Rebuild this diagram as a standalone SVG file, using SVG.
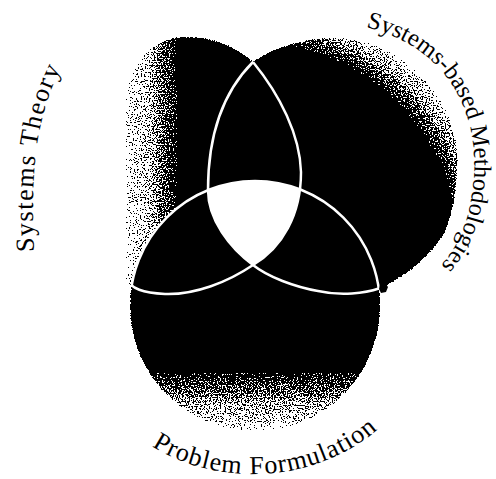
<svg xmlns="http://www.w3.org/2000/svg" xmlns:xlink="http://www.w3.org/1999/xlink" width="496" height="479" viewBox="0 0 496 479">
  <style>
    .lbl { font-family: "Liberation Serif", "Times New Roman", serif; fill: #000; }
    .edge { fill: none; stroke: #fff; stroke-width: 2.5; }
  </style>
  <defs>
    <path id="pA" d="M 253,62 C 280,95 300,135 301,172 C 301,215 282,248 253,265 C 228,282 195,295 165,294 C 145,293 130,290 124,275 C 118,230 118,140 128,90 C 135,58 155,38 185,37 C 215,37 238,48 253,62 Z"/>
    <path id="pB" d="M 253,62 C 270,50 300,38 335,38 C 390,38 440,80 455,135 C 460,165 456,205 445,232 C 430,257 405,276 383,287 C 365,294 340,296 318,291 C 295,287 268,277 253,265 C 230,248 208,220 208,190 C 208,130 225,90 253,62 Z"/>
    <circle id="pC" cx="255" cy="306" r="125"/>
    <linearGradient id="gA" gradientUnits="userSpaceOnUse" x1="124" y1="0" x2="178" y2="0">
      <stop offset="0" stop-color="#000" stop-opacity="0"/>
      <stop offset="0.45" stop-color="#000" stop-opacity="0.25"/>
      <stop offset="1" stop-color="#000" stop-opacity="1"/>
    </linearGradient>
    <radialGradient id="gB" gradientUnits="userSpaceOnUse" cx="250" cy="250" r="250">
      <stop offset="0.83" stop-color="#000" stop-opacity="1"/>
      <stop offset="0.91" stop-color="#000" stop-opacity="0.4"/>
      <stop offset="0.98" stop-color="#000" stop-opacity="0"/>
    </radialGradient>
    <linearGradient id="gC" gradientUnits="userSpaceOnUse" x1="0" y1="372" x2="0" y2="432">
      <stop offset="0" stop-color="#000" stop-opacity="1"/>
      <stop offset="0.5" stop-color="#000" stop-opacity="0.4"/>
      <stop offset="1" stop-color="#000" stop-opacity="0"/>
    </linearGradient>
    <filter id="spray" x="-10%" y="-10%" width="120%" height="120%" color-interpolation-filters="sRGB">
      <feTurbulence type="fractalNoise" baseFrequency="0.75" numOctaves="2" seed="7" result="n"/>
      <feComponentTransfer in="n" result="n2">
        <feFuncA type="linear" slope="3" intercept="-1"/>
      </feComponentTransfer>
      <feComposite in="SourceAlpha" in2="n2" operator="arithmetic" k1="0" k2="1.05" k3="1" k4="-0.52" result="s"/>
      <feComponentTransfer in="s" result="t">
        <feFuncA type="discrete" tableValues="0 1"/>
      </feComponentTransfer>
      <feFlood flood-color="#000" result="k"/>
      <feComposite in="k" in2="t" operator="in"/>
    </filter>
    <clipPath id="cA"><use xlink:href="#pA"/></clipPath>
    <clipPath id="cB"><use xlink:href="#pB"/></clipPath>
    <clipPath id="cBC"><use xlink:href="#pB"/><use xlink:href="#pC"/></clipPath>
    <clipPath id="cAC"><use xlink:href="#pA"/><use xlink:href="#pC"/></clipPath>
    <clipPath id="cAB"><use xlink:href="#pA"/><use xlink:href="#pB"/></clipPath>
    <path id="tA" d="M 34,252 C 31,175 33,120 64,62"/>
    <path id="tB" d="M 366,27 C 438,45 478,100 474,175 C 471,220 458,250 434,272"/>
    <path id="tC" d="M 152,446 C 210,484 310,488 378,429"/>
  </defs>

  <g id="node-systems-theory">
    <use xlink:href="#pA" fill="url(#gA)" filter="url(#spray)"/>
    <text class="lbl" font-size="26" letter-spacing="1.5"><textPath xlink:href="#tA">Systems Theory</textPath></text>
  </g>

  <g id="node-systems-based-methodologies">
    <use xlink:href="#pB" fill="url(#gB)" filter="url(#spray)"/>
    <text class="lbl" font-size="24.5"><textPath xlink:href="#tB">Systems-based Methodologies</textPath></text>
  </g>

  <g id="node-problem-formulation">
    <use xlink:href="#pC" fill="url(#gC)" filter="url(#spray)"/>
    <text class="lbl" font-size="26" letter-spacing="1"><textPath xlink:href="#tC">Problem Formulation</textPath></text>
  </g>

  <g id="connectors">
    <g clip-path="url(#cA)">
      <g clip-path="url(#cB)">
        <use xlink:href="#pC" fill="#fff"/>
      </g>
    </g>
    <use xlink:href="#pA" class="edge" clip-path="url(#cBC)"/>
    <use xlink:href="#pB" class="edge" clip-path="url(#cAC)"/>
    <use xlink:href="#pC" class="edge" clip-path="url(#cAB)"/>
    <path d="M 380,285 L 385,283 L 388,287 L 386,292 L 381,293 L 379,289 Z" fill="#000"/>
  </g>
</svg>
